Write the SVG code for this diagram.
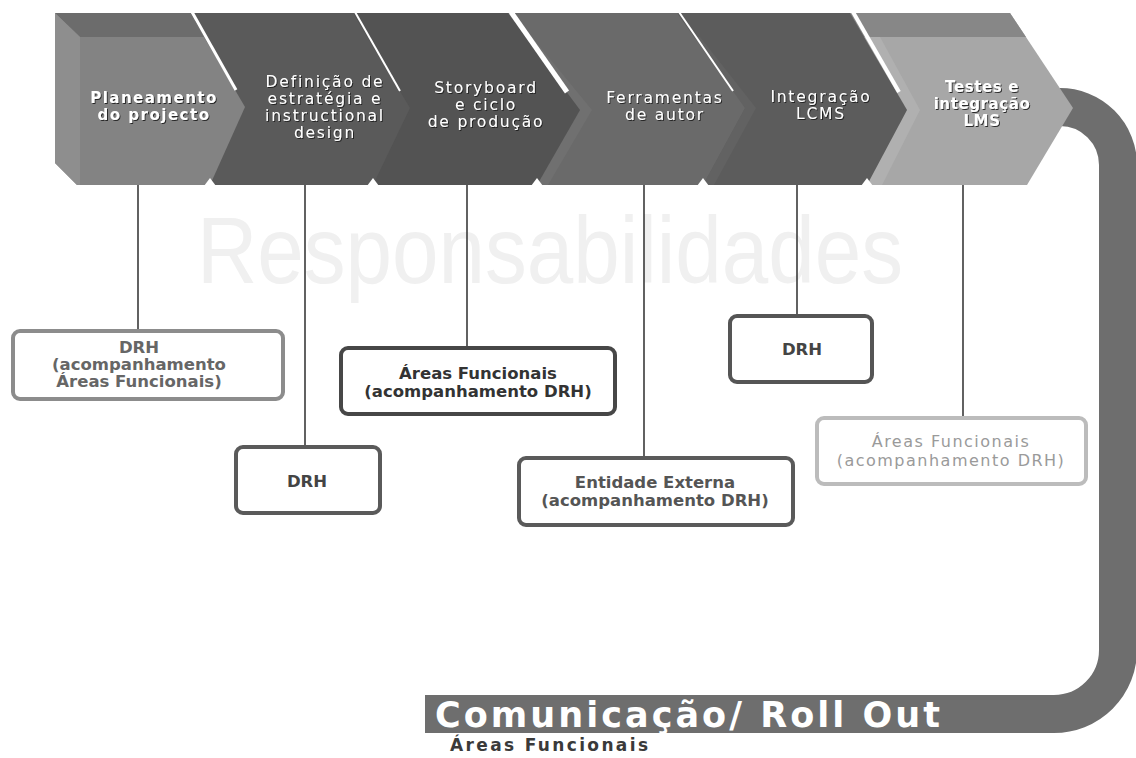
<svg xmlns="http://www.w3.org/2000/svg" width="1136" height="758" viewBox="0 0 1136 758">
<defs>
<style>
.ct{font-family:"DejaVu Sans",Verdana,sans-serif;font-size:15.5px;fill:#ffffff;text-anchor:middle;letter-spacing:1.8px;filter:url(#sh)}
.ctb{font-family:"DejaVu Sans",Verdana,sans-serif;font-size:15px;font-weight:bold;fill:#ffffff;text-anchor:middle;filter:url(#sh)}
.bx{fill:#ffffff;stroke-width:4}
.bt{font-family:"DejaVu Sans",Verdana,sans-serif;font-size:16.5px;font-weight:bold;text-anchor:middle}
.cn{stroke:#3a3a3a;stroke-width:1.6;fill:none}
.gap{stroke:#ffffff;fill:none;stroke-linecap:butt}
</style>
<filter id="sh" x="-10%" y="-30%" width="120%" height="160%">
<feDropShadow dx="1" dy="1" stdDeviation="0.6" flood-color="#1a1a1a" flood-opacity="0.9"/>
</filter>
</defs>
<rect x="0" y="0" width="1136" height="758" fill="#ffffff"/>

<!-- watermark -->
<text x="197" y="283" font-family="Liberation Sans, Arial, sans-serif" font-size="95" fill="#f0f0f0" textLength="706" lengthAdjust="spacingAndGlyphs">Responsabilidades</text>

<!-- return band -->
<g id="rollout-band">
<path d="M 1040 107 L 1060 107 A 58 58 0 0 1 1118 165 L 1118 650 A 64 64 0 0 1 1054 714 L 425 714" fill="none" stroke="#6e6e6e" stroke-width="38"/>
</g>

<g id="connectors">
<line class="cn" x1="138" y1="185" x2="138" y2="330"/>
<line class="cn" x1="305" y1="185" x2="305" y2="446"/>
<line class="cn" x1="467" y1="185" x2="467" y2="347"/>
<line class="cn" x1="644" y1="185" x2="644" y2="457"/>
<line class="cn" x1="797" y1="185" x2="797" y2="315"/>
<line class="cn" x1="963" y1="185" x2="963" y2="417" stroke="#555"/>
</g>

<g id="step6">
<polygon points="850,13 1010,13 1073,108 1027,185 867,185" fill="#a7a7a7"/>
<polygon points="850,13 1010,13 1026,37 858,37" fill="#878787"/>
<polygon points="866,37 880,37 920,110 882,185 867,185 907,110" fill="#b0b0b0"/>
<text class="ctb" letter-spacing="0.6" x="982" y="92">Testes e</text>
<text class="ctb" letter-spacing="0.6" x="982" y="109">integração</text>
<text class="ctb" letter-spacing="0.6" x="982" y="126">LMS</text>
</g>
<g id="step5">
<polygon points="677,13 850,13 907,110 867,185 703,185" fill="#5c5c5c"/>
<polygon points="690,37 700,37 756,108 714,185 703,185 745,108" fill="#626262"/>
<text class="ct" x="821" y="102">Integração</text>
<text class="ct" x="821" y="119">LCMS</text>
</g>
<g id="step4">
<polygon points="508,13 677,13 745,108 703,185 537,185" fill="#6a6a6a"/>
<polygon points="522,37 532,37 592,110 548,185 537,185 580,110" fill="#707070"/>
<text class="ct" x="665" y="103">Ferramentas</text>
<text class="ct" x="665" y="120">de autor</text>
</g>
<g id="step3">
<polygon points="353,13 508,13 580,110 537,185 373,185" fill="#535353"/>
<text class="ct" x="486" y="93">Storyboard</text>
<text class="ct" x="486" y="110">e ciclo</text>
<text class="ct" x="486" y="127">de produção</text>
</g>
<g id="step2">
<polygon points="190,13 353,13 410,108 373,185 210,185" fill="#5a5a5a"/>
<text class="ct" x="325" y="87">Definição de</text>
<text class="ct" x="325" y="104">estratégia e</text>
<text class="ct" x="325" y="121">instructional</text>
<text class="ct" x="325" y="138">design</text>
</g>
<g id="step1">
<polygon points="55,13 190,13 245,107 210,185 77,185 55,163" fill="#838383"/>
<polygon points="55,13 190,13 204,37 80,37" fill="#6c6c6c"/>
<polygon points="55,13 80,37 80,185 77,185 55,163" fill="#8e8e8e"/>
<text class="ctb" letter-spacing="1.5" x="154" y="103">Planeamento</text>
<text class="ctb" letter-spacing="1.5" x="154" y="120">do projecto</text>
</g>

<g id="gaps">
<line class="gap" stroke-width="3" x1="192" y1="12" x2="236" y2="90"/>
<line class="gap" stroke-width="2" x1="355" y1="12" x2="400" y2="91"/>
<line class="gap" stroke-width="5" x1="511" y1="12" x2="567" y2="92"/>
<line class="gap" stroke-width="2" x1="679" y1="12" x2="733" y2="91"/>
<line class="gap" stroke-width="4" x1="853" y1="12" x2="899" y2="92"/>
<polygon points="204,186 210,178 216,186" fill="#ffffff"/>
<polygon points="367,186 373,178 379,186" fill="#ffffff"/>
<polygon points="531,186 537,178 543,186" fill="#ffffff"/>
<polygon points="697,186 703,178 709,186" fill="#ffffff"/>
<polygon points="861,186 867,178 873,186" fill="#ffffff"/>
</g>

<g id="box1">
<rect class="bx" x="13" y="331" width="270" height="68" rx="7" stroke="#8c8c8c" stroke-width="3"/>
<text class="bt" fill="#666666" x="139" y="353">DRH</text>
<text class="bt" fill="#666666" x="139" y="370">(acompanhamento</text>
<text class="bt" fill="#666666" x="139" y="387">Áreas Funcionais)</text>
</g>
<g id="box2">
<rect class="bx" x="236" y="447" width="144" height="66" rx="7" stroke="#5a5a5a"/>
<text class="bt" fill="#444444" x="307" y="487">DRH</text>
</g>
<g id="box3">
<rect class="bx" x="341" y="348" width="274" height="66" rx="7" stroke="#474747"/>
<text class="bt" fill="#333333" x="478" y="379">Áreas Funcionais</text>
<text class="bt" fill="#333333" x="478" y="397">(acompanhamento DRH)</text>
</g>
<g id="box4">
<rect class="bx" x="730" y="316" width="142" height="66" rx="7" stroke="#555555"/>
<text class="bt" fill="#444444" x="802" y="355">DRH</text>
</g>
<g id="box5">
<rect class="bx" x="519" y="458" width="274" height="67" rx="7" stroke="#5a5a5a"/>
<text class="bt" fill="#555555" x="655" y="488">Entidade Externa</text>
<text class="bt" fill="#555555" x="655" y="506">(acompanhamento DRH)</text>
</g>
<g id="box6">
<rect class="bx" x="817" y="418" width="269" height="66" rx="7" stroke="#bcbcbc" stroke-width="3"/>
<text font-family="DejaVu Sans, Verdana, sans-serif" font-size="16px" letter-spacing="1.5" fill="#9a9a9a" text-anchor="middle" x="951" y="447">Áreas Funcionais</text>
<text font-family="DejaVu Sans, Verdana, sans-serif" font-size="16px" letter-spacing="1.5" fill="#9a9a9a" text-anchor="middle" x="951" y="466">(acompanhamento DRH)</text>
</g>

<g id="rollout">
<text x="435" y="727" font-family="DejaVu Sans, Verdana, sans-serif" font-size="35" font-weight="bold" fill="#ffffff" textLength="505" lengthAdjust="spacing">Comunicação/ Roll Out</text>
<text x="450" y="751" font-family="DejaVu Sans, Verdana, sans-serif" font-size="17" font-weight="bold" fill="#3a3a3a" textLength="198" lengthAdjust="spacing">Áreas Funcionais</text>
</g>
</svg>
